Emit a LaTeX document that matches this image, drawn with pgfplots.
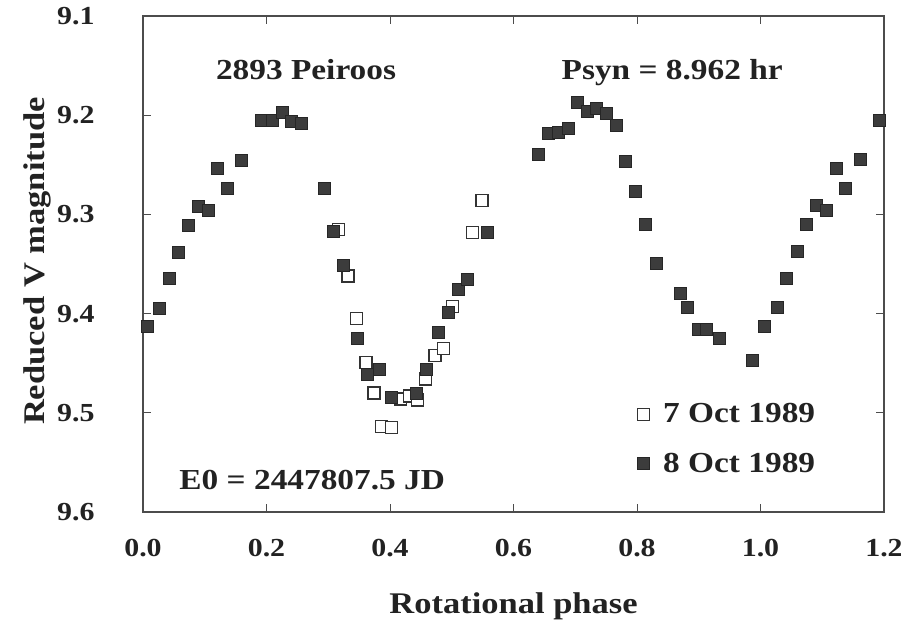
\documentclass[border=0pt]{standalone}
\usepackage{fontspec}
\setmainfont{Liberation Serif}[FakeStretch=1.15]
\usepackage{pgfplots}
\usepackage{pgfplotstable}
\pgfplotsset{compat=1.18}
\definecolor{ink}{HTML}{222222}
\definecolor{fillgray}{HTML}{3C3C3C}
\pgfplotstableread{
x y
0.316 9.315
0.332 9.362
0.346 9.405
0.361 9.449
0.374 9.480
0.386 9.514
0.402 9.515
0.417 9.486
0.431 9.483
0.444 9.487
0.458 9.466
0.473 9.442
0.487 9.435
0.501 9.393
0.534 9.318
0.549 9.286
}\openpts
\pgfplotstableread{
x y
0.007 9.413
0.026 9.395
0.042 9.365
0.058 9.338
0.073 9.311
0.090 9.292
0.106 9.296
0.121 9.254
0.137 9.274
0.160 9.246
0.191 9.205
0.209 9.205
0.225 9.197
0.241 9.206
0.256 9.208
0.294 9.274
0.309 9.317
0.325 9.351
0.347 9.425
0.363 9.461
0.383 9.456
0.403 9.484
0.443 9.480
0.459 9.456
0.478 9.419
0.494 9.399
0.511 9.376
0.526 9.366
0.557 9.318
0.640 9.240
0.656 9.218
0.673 9.217
0.689 9.213
0.703 9.187
0.720 9.196
0.735 9.193
0.751 9.198
0.767 9.210
0.782 9.247
0.798 9.277
0.814 9.310
0.831 9.349
0.871 9.380
0.881 9.394
0.899 9.416
0.913 9.416
0.933 9.425
0.987 9.447
1.007 9.413
1.027 9.394
1.042 9.365
1.059 9.337
1.074 9.310
1.090 9.291
1.107 9.296
1.123 9.254
1.138 9.274
1.161 9.245
1.192 9.205
}\filledpts
\begin{document}
\begin{tikzpicture}
\begin{axis}[
  scale only axis, width=741pt, height=496pt,
  xmin=0, xmax=1.2, ymin=9.1, ymax=9.6, y dir=reverse,
  xtick={0,0.2,0.4,0.6,0.8,1.0,1.2},
  xticklabels={0.0,0.2,0.4,0.6,0.8,1.0,1.2},
  ytick={9.1,9.2,9.3,9.4,9.5,9.6},
  yticklabels={9.1,9.2,9.3,9.4,9.5,9.6},
  /pgf/number format/assume math mode=true,
  tick align=inside, major tick length=8pt,
  axis line style={line width=1.2pt, color=black!70},
  tick style={line width=1pt, color=black!70},
  ticklabel style={font=\fontsize{26}{30}\selectfont\bfseries, text=ink},
  xticklabel style={yshift=-24pt},
  yticklabel style={xshift=-45pt},
  xlabel={Rotational phase}, ylabel={Reduced V magnitude},
  xlabel style={font=\fontsize{30}{34}\selectfont\bfseries, text=ink, at={(axis description cs:0.5,-0.2056)}, anchor=base},
  ylabel style={font=\fontsize{30}{34}\selectfont\bfseries, text=ink, at={(axis description cs:-0.1430,0.506)}, anchor=center},
  legend style={draw=none, fill=none, at={(axis cs:0.800,9.5264)}, anchor=west,
    font=\fontsize{29}{32}\selectfont\bfseries, text=ink, row sep=25pt, inner sep=0pt,
    nodes={inner sep=2pt}, column sep=12pt},
  legend cell align=left,
]
\addplot[only marks, mark=square*, mark size=6pt, mark options={fill=white, draw=black!80, line width=1.2pt}] table {\openpts};
\addlegendentry{7 Oct 1989}
\addplot[only marks, mark=square*, mark size=6pt, mark options={fill=fillgray, draw=black!85, line width=0.8pt}] table {\filledpts};
\addlegendentry{8 Oct 1989}
\node[font=\fontsize{29}{32}\selectfont\bfseries, text=ink, anchor=base] at (axis cs:0.264,9.1645) {2893 Peiroos};
\node[font=\fontsize{29}{32}\selectfont\bfseries, text=ink, anchor=base] at (axis cs:0.857,9.1645) {Psyn = 8.962 hr};
\node[font=\fontsize{29}{32}\selectfont\bfseries, text=ink, anchor=base] at (axis cs:0.274,9.577) {E0 = 2447807.5 JD};
\end{axis}
\pgfresetboundingbox
\path[use as bounding box] (current axis.south west) ++(-143pt,-124pt) rectangle ++(901pt,636pt);
\end{tikzpicture}
\end{document}
